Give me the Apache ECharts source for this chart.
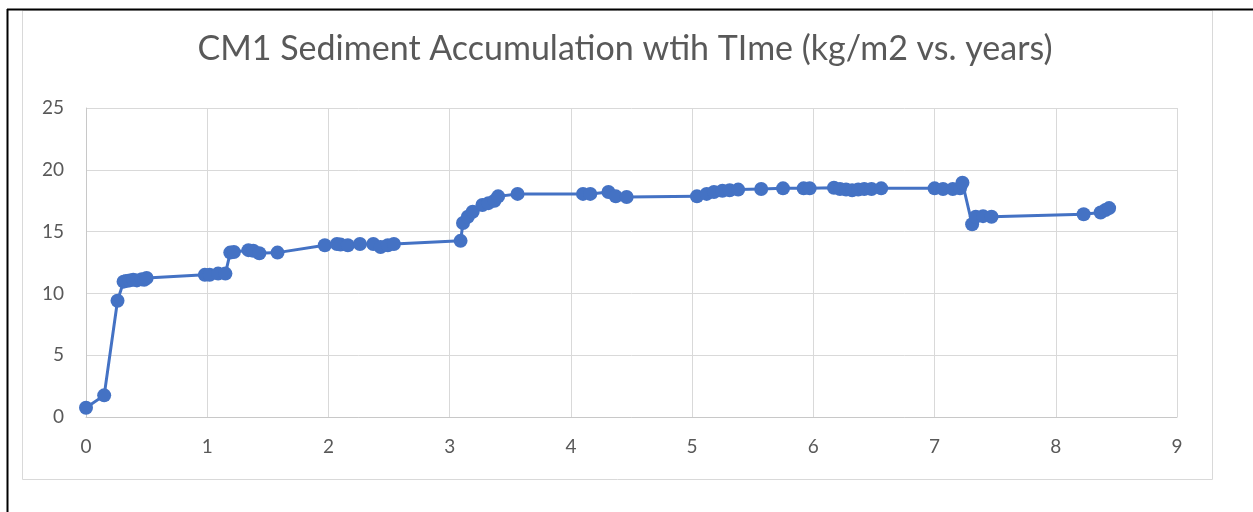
<!DOCTYPE html>
<html>
<head>
<meta charset="utf-8">
<title>CM1 Sediment Accumulation</title>
<script src="https://cdn.jsdelivr.net/npm/echarts@6/dist/echarts.min.js"></script>
<style>
  html, body { margin: 0; padding: 0; background: #ffffff; }
  #chart { width: 1253px; height: 512px; }
</style>
</head>
<body>
<div id="chart"></div>
<script>
// Elapsed time of each core sample (years)
const years = [
  0.00, 0.15, 0.26, 0.31, 0.33, 0.36, 0.39, 0.42, 0.46, 0.48, 0.50,
  0.98, 1.02, 1.09, 1.15, 1.19, 1.22, 1.34, 1.38, 1.43, 1.58,
  1.97, 2.07, 2.10, 2.16, 2.26, 2.37, 2.43, 2.49, 2.54,
  3.09, 3.11, 3.15, 3.19, 3.27, 3.32, 3.37, 3.40, 3.56,
  4.10, 4.16, 4.31, 4.37, 4.46,
  5.04, 5.12, 5.18, 5.25, 5.31, 5.38, 5.57, 5.75, 5.92, 5.97,
  6.17, 6.22, 6.27, 6.32, 6.37, 6.42, 6.48, 6.56,
  7.00, 7.07, 7.15, 7.21, 7.23, 7.31, 7.34, 7.40, 7.47,
  8.23, 8.37, 8.41, 8.44
];

// Cumulative sediment mass (kg/m2)
const sediment = [
  0.75, 1.75, 9.40, 10.95, 11.00, 11.05, 11.10, 11.05, 11.15, 11.10, 11.25,
  11.50, 11.50, 11.60, 11.60, 13.30, 13.35, 13.50, 13.45, 13.25, 13.30,
  13.90, 14.00, 13.95, 13.90, 14.00, 14.00, 13.75, 13.90, 14.00,
  14.25, 15.70, 16.20, 16.60, 17.15, 17.30, 17.50, 17.85, 18.05,
  18.05, 18.05, 18.20, 17.85, 17.80,
  17.85, 18.05, 18.20, 18.30, 18.35, 18.40, 18.45, 18.50, 18.50, 18.50,
  18.55, 18.45, 18.40, 18.35, 18.40, 18.45, 18.45, 18.50,
  18.50, 18.45, 18.45, 18.50, 18.95, 15.60, 16.20, 16.25, 16.20,
  16.40, 16.55, 16.75, 16.90
];

const xTicks = { min: 0, max: 9, interval: 1 };
const yTicks = { min: 0, max: 25, interval: 5 };

const points = years.map((t, i) => [t, sediment[i]]);

const chart = echarts.init(document.getElementById('chart'), null, { renderer: 'canvas' });

const textColor = '#595959';
const gridColor = '#d9d9d9';
const font = 'Lato, "Open Sans", "Liberation Sans", sans-serif';

chart.setOption({
  animation: false,
  backgroundColor: '#ffffff',
  title: {
    text: 'CM1 Sediment Accumulation wtih TIme (kg/m2 vs. years)',
    left: 620,
    textAlign: 'center',
    top: 27,
    textStyle: {
      color: textColor,
      fontFamily: font,
      fontWeight: 'normal',
      fontSize: 34
    }
  },
  grid: { left: 86, right: 76, top: 108, bottom: 95, containLabel: false },
  xAxis: {
    type: 'value',
    min: xTicks.min, max: xTicks.max, interval: xTicks.interval,
    axisLine: { show: true, lineStyle: { color: '#c8c8c8', width: 1 } },
    axisTick: { show: false },
    splitLine: { show: true, lineStyle: { color: gridColor, width: 1 } },
    axisLabel: { color: textColor, fontFamily: font, fontSize: 19, margin: 20 }
  },
  yAxis: {
    type: 'value',
    min: yTicks.min, max: yTicks.max, interval: yTicks.interval,
    axisLine: { show: true, lineStyle: { color: '#c8c8c8', width: 1 } },
    axisTick: { show: false },
    splitLine: { show: true, lineStyle: { color: gridColor, width: 1 } },
    axisLabel: { color: textColor, fontFamily: font, fontSize: 19, margin: 22 }
  },
  series: [{
    type: 'line',
    data: points,
    symbol: 'circle',
    symbolSize: 14,
    showAllSymbol: true,
    lineStyle: { color: '#4472C4', width: 3 },
    itemStyle: { color: '#4472C4' },
    z: 3
  }],
  graphic: [
    // chart area outline
    {
      type: 'rect',
      shape: { x: 22.5, y: 10.5, width: 1190, height: 469 },
      style: { fill: 'none', stroke: '#d9d9d9', lineWidth: 1 },
      z: -1
    },
    // page frame lines
    {
      type: 'line',
      shape: { x1: 7, y1: 9.5, x2: 1253, y2: 9.5 },
      style: { stroke: '#000000', lineWidth: 2 }
    },
    {
      type: 'line',
      shape: { x1: 7.5, y1: 9, x2: 7.5, y2: 512 },
      style: { stroke: '#000000', lineWidth: 2 }
    }
  ]
});
</script>
</body>
</html>
